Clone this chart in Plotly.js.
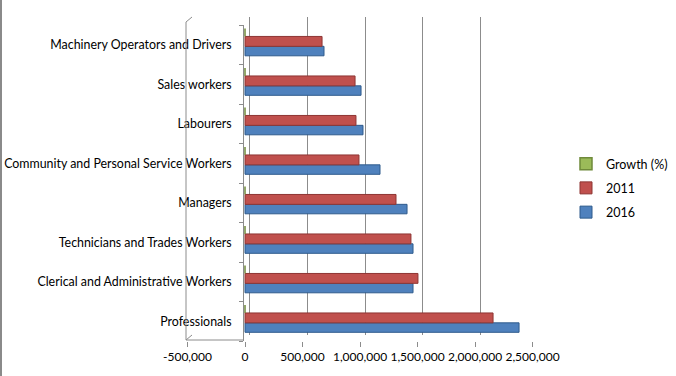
<!DOCTYPE html>
<html>
<head>
<meta charset="utf-8">
<script src="https://cdn.plot.ly/plotly-3.0.1.min.js"></script>
<style>html,body{margin:0;padding:0;background:#fff;}#chart{width:676px;height:376px;}</style>
</head>
<body>
<div id="chart"></div>
<script>
// ---- data ----
const categories = ['Professionals', 'Clerical and Administrative Workers', 'Technicians and Trades Workers', 'Managers',
  'Community and Personal Service Workers', 'Labourers', 'Sales workers', 'Machinery Operators and Drivers'];
const values2016 = [2383000, 1461000, 1461000, 1409000, 1174000, 1026000, 1009000, 687000];
const values2011 = [2157000, 1504000, 1443000, 1313000, 991000, 965000, 957000, 670000];
const growthPct = [10.5, -2.9, 1.3, 7.3, 18.5, 6.3, 5.4, 2.5];
const xTickValues = [-500000, 0, 500000, 1000000, 1500000, 2000000, 2500000];
const xTickLabels = ['-500,000', '0', '500,000', '1,000,000', '1,500,000', '2,000,000', '2,500,000'];

// ---- helpers (pixel -> paper) ----
const W = 676, H = 376;
const px = x => x / W;
const py = y => 1 - y / H;
const FONT = 'Lato, "Open Sans", sans-serif';
const GRID = '#8c8c8c';

const traces = [
  // back-wall subplot (gridlines only)
  {type: 'scatter', x: [], y: [], xaxis: 'x', yaxis: 'y', showlegend: false, hoverinfo: 'skip'},
  {type: 'bar', orientation: 'h', name: '2016', y: categories, x: values2016, xaxis: 'x2', yaxis: 'y2',
   width: 0.24, offset: -0.28, legendgroup: 'c', legendrank: 3,
   marker: {color: '#4F81BD', line: {color: '#2f5b8c', width: 1}}},
  {type: 'bar', orientation: 'h', name: '2011', y: categories, x: values2011, xaxis: 'x2', yaxis: 'y2',
   width: 0.25, offset: -0.04, legendgroup: 'b', legendrank: 2,
   marker: {color: '#C0504D', line: {color: '#8e3533', width: 1}}},
  {type: 'bar', orientation: 'h', name: 'Growth (%)', y: categories, x: growthPct, xaxis: 'x2', yaxis: 'y2',
   width: 0.2, offset: 0.21, legendgroup: 'a', legendrank: 1,
   marker: {color: '#9BBB59', line: {color: '#6f8a3a', width: 1.5}}}
];

const layout = {
  width: W, height: H,
  margin: {l: 0, r: 0, t: 0, b: 0},
  paper_bgcolor: '#fff', plot_bgcolor: 'rgba(0,0,0,0)',
  font: {family: FONT, size: 12, color: '#000'},
  barmode: 'overlay',
  hovermode: false,
  showlegend: true,
  legend: {x: px(566), y: py(149), xanchor: 'left', yanchor: 'top', traceorder: 'grouped',
           tracegroupgap: 5, font: {family: FONT, size: 12.5, color: '#000'}, bgcolor: 'rgba(0,0,0,0)'},
  xaxis: {domain: [px(192), px(538)], range: [-500000, 2500000], anchor: 'y',
          tickvals: xTickValues, showticklabels: false, ticks: '', showgrid: true, gridcolor: GRID, gridwidth: 1,
          zeroline: false, showline: false, fixedrange: true, automargin: false},
  yaxis: {domain: [py(335), py(17)], range: [0, 1], anchor: 'x', showgrid: false, zeroline: false,
          showticklabels: false, ticks: '', showline: false, fixedrange: true, automargin: false},
  xaxis2: {domain: [px(187.5), px(532.5)], range: [-500000, 2500000], anchor: 'y2',
           tickvals: xTickValues, ticktext: xTickLabels, showgrid: false, zeroline: false, showline: false,
           ticks: 'outside', ticklen: 5, tickcolor: GRID, tickfont: {family: FONT, size: 12, color: '#000'},
           fixedrange: true, automargin: false},
  yaxis2: {domain: [py(341), py(25)], type: 'category', range: [-0.5, 7.5], anchor: 'free', position: px(243),
           showgrid: false, zeroline: false, showline: true, linecolor: GRID, linewidth: 1,
           ticks: 'outside', ticklen: 4, tickcolor: GRID, tickson: 'boundaries', ticklabelstandoff: 9,
           tickfont: {family: FONT, size: 12.4, color: '#000'}, fixedrange: true, automargin: false},
  shapes: [
    {type: 'line', xref: 'paper', yref: 'paper', x0: px(1), x1: px(1), y0: 0, y1: 1, line: {color: '#8a8a8a', width: 2}},
    {type: 'line', xref: 'paper', yref: 'paper', x0: px(186), x1: px(186), y0: py(340), y1: py(22), line: {color: GRID, width: 1}},
    {type: 'line', xref: 'paper', yref: 'paper', x0: px(186), x1: px(192), y0: py(22), y1: py(17), line: {color: GRID, width: 1}},
    {type: 'line', xref: 'paper', yref: 'paper', x0: px(186), x1: px(192), y0: py(340), y1: py(335), line: {color: GRID, width: 1}},
    {type: 'line', xref: 'paper', yref: 'paper', x0: px(186), x1: px(243), y0: py(340), y1: py(340), line: {color: GRID, width: 1}}
  ]
};

Plotly.newPlot('chart', traces, layout, {staticPlot: true, displayModeBar: false});
</script>
</body>
</html>
